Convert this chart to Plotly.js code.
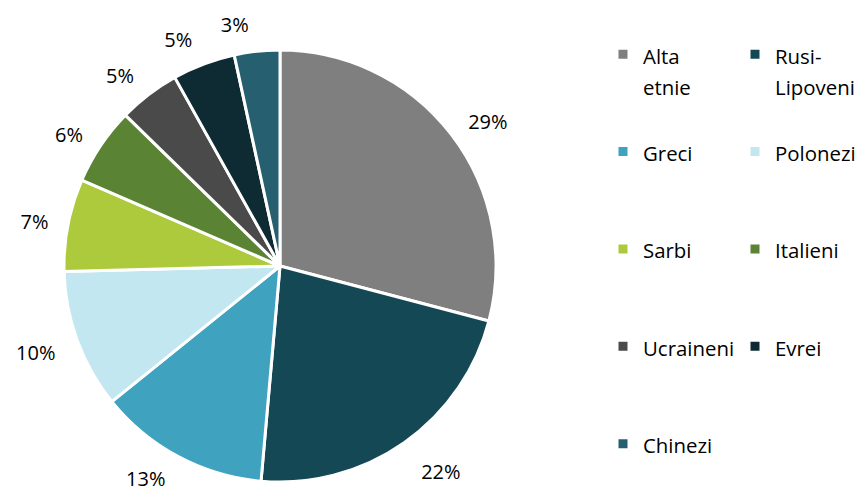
<!DOCTYPE html>
<html>
<head>
<meta charset="utf-8">
<script src="https://cdn.plot.ly/plotly-3.0.1.min.js"></script>
<style>html,body{margin:0;padding:0;background:#fff;}#chart{width:857px;height:495px;}</style>
</head>
<body>
<div id="chart"></div>
<script>
// Data (share of each group, percent)
const categories = ["Alta etnie", "Rusi-Lipoveni", "Greci", "Polonezi", "Sarbi", "Italieni", "Ucraineni", "Evrei", "Chinezi"];
const shares = [29.1, 22.3, 12.8, 10.4, 6.9, 5.8, 4.6, 4.7, 3.4];
const colors = ["#7f7f7f", "#154855", "#3fa2bf", "#c3e7f0", "#acca3c", "#5a8434", "#4a4a4a", "#0e2b33", "#266070"];

// label styling: small spacer line above some percent labels,
// and the smallest slice's label drawn by its own trace so it is not pushed away
const labelPad = ["none", "above", "none", "above", "none", "none", "none", "none", "none"];
const ownLabelTrace = [false, false, false, false, false, false, false, false, true];

// legend text: wrap long two-part names, pad every entry to the same number of lines
function legendText(name) {
  let parts;
  const m = name.match(/^(\S+?-)(\S+)$/);
  if (m) parts = [m[1], m[2]];
  else if (name.indexOf(' ') > 0) parts = name.split(' ');
  else parts = [name];
  const spans = parts.map(p => '<span style="font-size:20.4px">' + p + '</span>');
  while (spans.length < 3) spans.push(' ');
  return spans.join('<br>');
}

const SPACER = '<span style="font-size:6px">\u00A0</span>';
const PCT = '<span style="color:#000000">%{percent:.0%}</span>';
const templates = labelPad.map(p => p === 'above' ? SPACER + '<br>' + PCT : (p === 'below' ? PCT + '<br>' + SPACER : PCT));

// visible pie (slices + legend)
const slices = {
  type: 'pie',
  labels: categories.map(legendText),
  values: shares,
  sort: false,
  direction: 'clockwise',
  rotation: 0,
  marker: { colors: colors, line: { color: '#ffffff', width: 3 } },
  textinfo: 'none',
  hoverinfo: 'label+percent',
  automargin: false,
  domain: { x: [0.02838, 0.97162], y: [0.02626, 0.89899] }
};

// same data, transparent, slightly larger radius: carries the percent labels
function labelPie(show) {
  return {
    type: 'pie',
    labels: categories,
    values: shares,
    sort: false,
    direction: 'clockwise',
    rotation: 0,
    showlegend: false,
    marker: { colors: categories.map(() => 'rgba(255,255,255,0)'), line: { color: 'rgba(255,255,255,0)', width: 0 } },
    textposition: ownLabelTrace.map(o => (o === show ? 'outside' : 'none')),
    texttemplate: templates,
    textfont: { family: 'Open Sans, sans-serif', size: 20, color: '#ffffff' },
    outsidetextfont: { family: 'Open Sans, sans-serif', size: 20, color: '#ffffff' },
    hoverinfo: 'none',
    automargin: false,
    domain: { x: [0, 1], y: [0, 0.92525] }
  };
}

const layout = {
  width: 857,
  height: 495,
  margin: { l: 51, r: 348, t: 0, b: 0, autoexpand: false },
  paper_bgcolor: '#ffffff',
  plot_bgcolor: '#ffffff',
  font: { family: 'Open Sans, sans-serif', color: '#000000' },
  showlegend: true,
  legend: {
    orientation: 'h',
    x: 1.0524,
    xanchor: 'left',
    y: 1.0768,
    yanchor: 'top',
    entrywidth: 87,
    borderwidth: 70,
    bordercolor: 'rgba(0,0,0,0)',
    bgcolor: 'rgba(0,0,0,0)',
    valign: 'top',
    maxheight: 1000,
    font: { family: 'Open Sans, sans-serif', size: 24.2, color: '#000000' }
  }
};

Plotly.newPlot('chart', [slices, labelPie(false), labelPie(true)], layout, { displayModeBar: false, staticPlot: true });
</script>
</body>
</html>
